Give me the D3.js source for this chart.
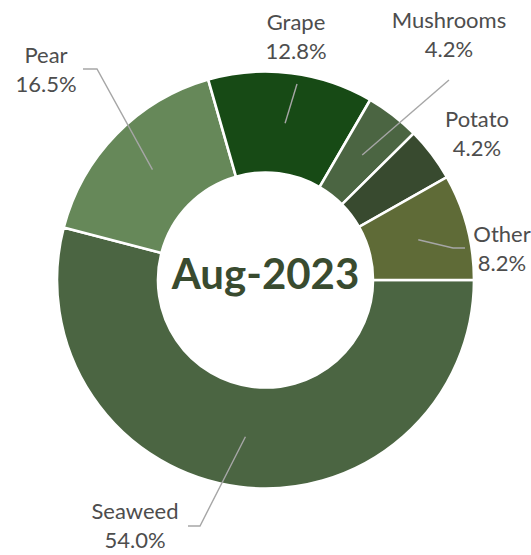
<!DOCTYPE html>
<html>
<head>
<meta charset="utf-8">
<script src="https://cdn.jsdelivr.net/npm/d3@7/dist/d3.min.js"></script>
<style>
  html, body { margin: 0; padding: 0; background: #ffffff; }
  svg { display: block; }
</style>
</head>
<body>
<svg id="chart" width="531" height="555"></svg>
<script>
// ---- data ----
const categories = ["Seaweed", "Pear", "Grape", "Mushrooms", "Potato", "Other"];
const values = [54.0, 16.5, 12.8, 4.2, 4.2, 8.2];
const valueLabels = ["54.0%", "16.5%", "12.8%", "4.2%", "4.2%", "8.2%"];
const colors = ["#4b6542", "#668859", "#174a15", "#4b6542", "#384a2f", "#5f6b37"];
const centerTitle = "Aug-2023";

// ---- layout ----
const W = 531, H = 555;
const cx = 265.5, cy = 280;
const outerR = 208.5, innerR = 107.5, leaderR = 158;

// label positions (centre x, first-line baseline y) and leader elbow points
const labelLayout = {
  "Seaweed":   { x: 135, y: 519, leader: [[188, 526], [200, 526]] },
  "Pear":      { x: 46,  y: 63,  leader: [[83, 69], [97, 69]] },
  "Grape":     { x: 296, y: 30,  leader: [[297, 84]] },
  "Mushrooms": { x: 449, y: 28,  leader: [[449, 80]] },
  "Potato":    { x: 477, y: 127, leader: null },
  "Other":     { x: 502, y: 242, leader: [[465, 248], [453, 248]] }
};

const svg = d3.select("#chart");
const g = svg.append("g").attr("transform", `translate(${cx},${cy})`);

const data = categories.map((c, i) => ({ name: c, value: values[i], label: valueLabels[i], color: colors[i] }));

const pie = d3.pie()
  .value(d => d.value)
  .sort(null)
  .startAngle(Math.PI / 2)
  .endAngle(Math.PI / 2 + 2 * Math.PI);

const arcs = pie(data);
const arc = d3.arc().innerRadius(innerR).outerRadius(outerR);
const midArc = d3.arc().innerRadius(leaderR).outerRadius(leaderR);

g.selectAll("path.slice")
  .data(arcs)
  .enter().append("path")
  .attr("class", "slice")
  .attr("d", arc)
  .attr("fill", d => d.data.color)
  .attr("stroke", "#ffffff")
  .attr("stroke-width", 2.6)
  .attr("stroke-linejoin", "miter");

// leader lines
const line = d3.line();
arcs.forEach(a => {
  const lay = labelLayout[a.data.name];
  if (!lay.leader) return;
  const c = midArc.centroid(a);
  const pts = lay.leader.map(p => [p[0] - cx, p[1] - cy]).concat([c]);
  g.append("path")
    .attr("d", line(pts))
    .attr("fill", "none")
    .attr("stroke", "#a6a6a6")
    .attr("stroke-width", 1.4);
});

// labels
arcs.forEach(a => {
  const lay = labelLayout[a.data.name];
  const t = svg.append("text")
    .attr("x", lay.x)
    .attr("y", lay.y)
    .attr("text-anchor", "middle")
    .attr("font-family", "Lato, 'Open Sans', sans-serif")
    .attr("font-size", 22)
    .attr("fill", "#4d4d4d");
  t.append("tspan").attr("x", lay.x).text(a.data.name);
  t.append("tspan").attr("x", lay.x).attr("dy", 28.5).text(a.data.label);
});

// centre title
svg.append("text")
  .attr("x", cx)
  .attr("y", 289)
  .attr("text-anchor", "middle")
  .attr("font-family", "Lato, 'Open Sans', sans-serif")
  .attr("font-weight", "bold")
  .attr("font-size", 42)
  .attr("fill", "#394b2f")
  .text(centerTitle);
</script>
</body>
</html>
